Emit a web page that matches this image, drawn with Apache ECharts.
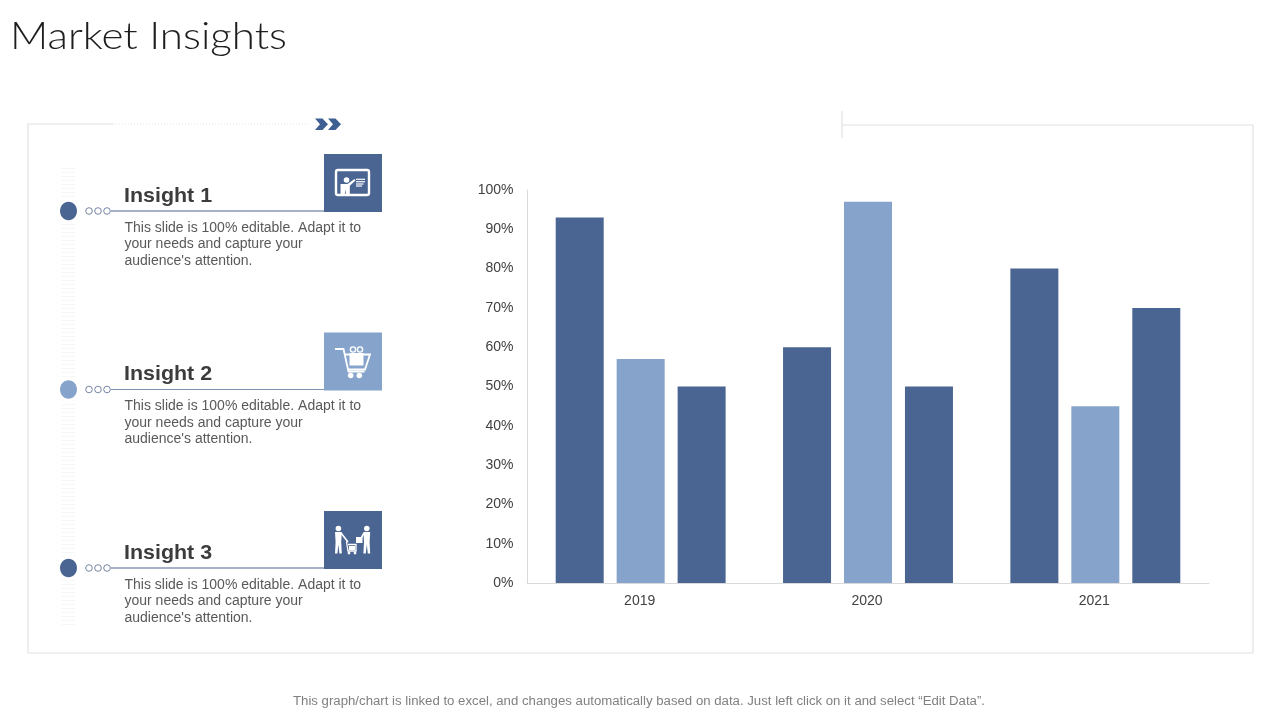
<!DOCTYPE html>
<html><head><meta charset="utf-8">
<style>html,body{margin:0;padding:0;background:#fff}#c{width:1280px;height:720px}</style>
<script src="https://cdn.jsdelivr.net/npm/echarts@6/dist/echarts.min.js"></script>
</head><body><div id="c"></div>
<script>
const years = ['2019','2020','2021'];
const seriesA = [93,60,80];
const seriesB = [57,97,45];
const seriesC = [50,50,70];
const headings = ['Insight 1','Insight 2','Insight 3'];
const bodyLines = ['This slide is 100% editable. Adapt it to','your needs and capture your',"audience's attention."];
const titleText = 'Market Insights';
const footerText = 'This graph/chart is linked to excel, and changes automatically based on data. Just left click on it and select “Edit Data”.';
const DARK='#4A6591', LIGHT='#86A4CB', FRAME='#E2E2E2';
const g=[];
const line=(x1,y1,x2,y2,stroke,w,extra)=>g.push({type:'line',silent:true,shape:{x1,y1,x2,y2},style:Object.assign({stroke,lineWidth:w},extra||{})});
const rect=(x,y,width,height,fill,r)=>g.push({type:'rect',silent:true,shape:{x,y,width,height,r:r||0},style:{fill}});
const circ=(cx,cy,r,fill)=>g.push({type:'circle',silent:true,shape:{cx,cy,r},style:{fill}});
const poly=(points,fill)=>g.push({type:'polygon',silent:true,shape:{points},style:{fill}});
const pline=(points,w)=>g.push({type:'polyline',silent:true,shape:{points},style:{stroke:'#fff',lineWidth:w,fill:'none'}});
const mctx=document.createElement('canvas').getContext('2d');
const fit=(t,font,w)=>{mctx.font=font;return w/mctx.measureText(t).width;};
const text=(x,y,t,font,fill,sx)=>g.push({type:'text',silent:true,x,y,scaleX:sx||1,style:{text:t,font,fill,textVerticalAlign:'middle'}});

// frame
line(28,124,113,124,FRAME,1.2);
line(113,124,310,124,'#EFEFEF',1.5,{lineDash:[1,2]});
line(28,123.5,28,653,FRAME,1.2);
line(28,653,1253,653,FRAME,1.2);
line(1253,125,1253,653,FRAME,1.2);
line(842,125,1253,125,FRAME,1.2);
line(842,111,842,138,'#DCDCDC',1);
// chevrons
[315,328].forEach(x=>poly([[x,118.5],[x+7.5,118.5],[x+13,124.3],[x+7.5,130],[x,130],[x+5,124.3]],'#3F5F92'));
// hatched strip
line(68.5,168,68.5,628,'#F6F6F6',13,{lineDash:[1,3]});

// insights
const rows=[{top:154,y:211,c:DARK,l:'#4A6591'},{top:332.5,y:389.5,c:LIGHT,l:'#7D93B0'},{top:511,y:568,c:DARK,l:'#4A6591'}];
rows.forEach((r,i)=>{
  g.push({type:'ellipse',silent:true,shape:{cx:68.5,cy:r.y,rx:10,ry:13},style:{fill:'#fff'}});
  line(111,r.y,324,r.y,r.l,1.2);
  rect(324,r.top,58,58,r.c);
  g.push({type:'ellipse',silent:true,shape:{cx:68.5,cy:r.y,rx:8.5,ry:9.3},style:{fill:r.c}});
  [89,98,107].forEach(x=>g.push({type:'circle',silent:true,shape:{cx:x,cy:r.y,r:3.3},style:{fill:'#fff',stroke:'#66789A',lineWidth:0.9}}));
  text(124,r.y-15,headings[i],'bold 21px "Liberation Sans"','#3C3C3C',1.02);
  bodyLines.forEach((t,k)=>text(124.5,r.y+17+k*16.5,t,'14px "Liberation Sans"','#595959'));
});
// icon 1: presentation board
g.push({type:'rect',silent:true,shape:{x:336,y:170,width:33,height:25,r:2},style:{fill:'none',stroke:'#fff',lineWidth:2.4}});
circ(346.5,180,2.8,'#fff');
poly([[340.5,184],[347.5,184],[354.5,179],[355.5,180.5],[349.8,185.8],[349.8,194],[346,194],[345.5,189],[345,194],[340.5,194]],'#fff');
[[356,365,179.3],[356,365,181.7],[356,363.5,184],[356,362,186]].forEach(a=>line(a[0],a[2],a[1],a[2],'#fff',1.2));
// icon 2: cart with gift
pline([[335,349],[343.5,349],[348.5,371.5],[364.5,371.5]],1.8);
pline([[345,354.5],[370,354.5],[365,369.5],[348,369.5]],1.8);
rect(349.5,353,14,12.5,'#fff');
circ(350.7,375.5,2.8,'#fff');circ(359.3,375.5,2.8,'#fff');
g.push({type:'circle',silent:true,shape:{cx:353,cy:349.5,r:2.6},style:{fill:'none',stroke:'#fff',lineWidth:1.4}});
g.push({type:'circle',silent:true,shape:{cx:360,cy:349.5,r:2.6},style:{fill:'none',stroke:'#fff',lineWidth:1.4}});
// icon 3: people with cart
const ppl=(cx)=>{
  circ(cx,528.5,2.8,'#fff');
  poly([[cx-3.4,532],[cx+3.4,532],[cx+2.8,542],[cx+3.4,553.5],[cx+1,553.5],[cx,544.5],[cx-1,553.5],[cx-3.4,553.5],[cx-2.8,542]],'#fff');
};
ppl(338.4);ppl(366.8);
line(341,533,348,542,'#fff',1.6);
line(364,533,360,540,'#fff',1.6);
pline([[346.5,541.5],[348,551],[356,551],[356,544.5],[348,544.5]],1.3);
rect(349,546,6,4,'#fff');
circ(349,553,1.4,'#fff');circ(355,553,1.4,'#fff');
rect(356,537,6.5,6,'#fff');

// title and footer
const titleFont='300 38px Lato', footerFont='12px "Liberation Sans"';
text(10,37,titleText,titleFont,'#1E1E1E',fit(titleText,titleFont,277));
text(293,701.5,footerText,footerFont,'#808080',fit(footerText,footerFont,692));

const bar=(data,color)=>({type:'bar',data,barWidth:48,barGap:'27%',itemStyle:{color},silent:true});
echarts.init(document.getElementById('c'),null,{renderer:'canvas'}).setOption({
  animation:false,
  backgroundColor:'#fff',
  grid:{left:527,right:71,top:190,bottom:137,containLabel:false},
  xAxis:{type:'category',data:years,axisTick:{show:false},
    axisLine:{lineStyle:{color:'#D9D9D9',width:1}},
    axisLabel:{color:'#404040',fontSize:14,fontFamily:'Liberation Sans',margin:11,padding:[0,2,0,0]}},
  yAxis:{type:'value',min:0,max:100,interval:10,
    axisLine:{show:true,lineStyle:{color:'#D9D9D9',width:1}},axisTick:{show:false},splitLine:{show:false},
    axisLabel:{formatter:'{value}%',color:'#404040',fontSize:14,fontFamily:'Liberation Sans',margin:13.5,padding:[3,0,0,0]}},
  series:[bar(seriesA,DARK),bar(seriesB,LIGHT),bar(seriesC,DARK)],
  graphic:{elements:g}
});
</script></body></html>
